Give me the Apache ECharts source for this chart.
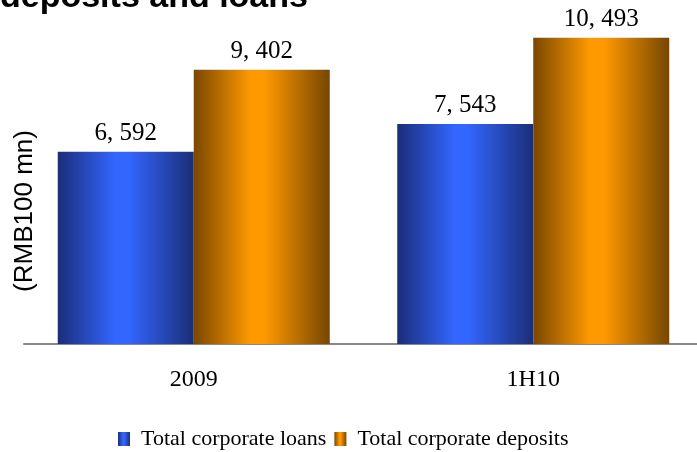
<!DOCTYPE html>
<html>
<head>
<meta charset="utf-8">
<script src="https://cdn.jsdelivr.net/npm/echarts@6/dist/echarts.min.js"></script>
<style>
  html, body { margin: 0; padding: 0; background: #fff; }
  #main { width: 697px; height: 452px; }
</style>
</head>
<body>
<div id="main"></div>
<script>
// categories and values (RMB100 mn)
var periods = ['2009', '1H10'];
var corpLoans = [6592, 7543];
var corpDeposits = [9402, 10493];

var serif = '"Liberation Serif", "DejaVu Serif", serif';
var sans = '"Liberation Sans", Arial, sans-serif';

function fmt(v) {
  // reference prints "6, 592"
  var s = String(v);
  return s.length > 3 ? s.slice(0, s.length - 3) + ', ' + s.slice(-3) : s;
}

function barGrad(dark, bright, dark2) {
  return new echarts.graphic.LinearGradient(0, 0, 1, 0, [
    { offset: 0, color: dark },
    { offset: 0.42, color: bright },
    { offset: 0.52, color: bright },
    { offset: 1, color: dark2 }
  ]);
}

var chart = echarts.init(document.getElementById('main'));
var option = {
  animation: false,
  grid: { left: 24, right: -6, top: 23, bottom: 108, outerBoundsMode: 'none' },
  graphic: [
    {
      type: 'text',
      left: 0,
      top: -19,
      style: { text: 'deposits and loans', font: 'bold 34px ' + sans, fill: '#000' }
    },
    {
      type: 'text',
      x: 25,
      y: 211,
      rotation: Math.PI / 2,
      style: {
        text: '(RMB100 mn)', font: '26px ' + sans, fill: '#000',
        align: 'center', verticalAlign: 'middle'
      }
    }
  ],
  legend: {
    left: 113,
    top: 423,
    icon: 'rect',
    itemWidth: 12,
    itemHeight: 14,
    itemGap: 8,
    textStyle: { fontFamily: serif, fontSize: 22, color: '#000', padding: [0, 0, 0, 6] },
    data: ['Total corporate loans', 'Total corporate deposits']
  },
  xAxis: {
    type: 'category',
    data: periods,
    axisTick: { show: false },
    axisLine: { lineStyle: { color: '#888', width: 2 } },
    axisLabel: { fontFamily: serif, fontSize: 24, color: '#000', margin: 24 }
  },
  yAxis: {
    type: 'value',
    min: 0,
    max: 11000,
    show: false,
    splitLine: { show: false }
  },
  series: [
    {
      name: 'Total corporate loans',
      type: 'bar',
      data: corpLoans,
      barWidth: 136,
      barGap: '0%',
      itemStyle: { color: barGrad('#1a2d78', '#3366ff', '#1b2e76') },
      label: {
        show: true, position: 'top', distance: 6,
        fontFamily: serif, fontSize: 25, color: '#000',
        formatter: function (p) { return fmt(p.value); }
      }
    },
    {
      name: 'Total corporate deposits',
      type: 'bar',
      data: corpDeposits,
      barWidth: 136,
      barGap: '0%',
      itemStyle: { color: barGrad('#7a4700', '#ff9900', '#764600') },
      label: {
        show: true, position: 'top', distance: 6,
        fontFamily: serif, fontSize: 25, color: '#000',
        formatter: function (p) { return fmt(p.value); }
      }
    }
  ]
};
chart.setOption(option);
</script>
</body>
</html>
